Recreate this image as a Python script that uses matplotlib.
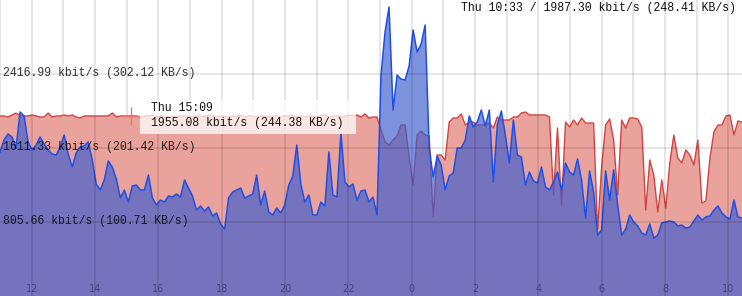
import numpy as np
import matplotlib
matplotlib.use("Agg")
import matplotlib.pyplot as plt
from matplotlib.patches import Rectangle
from matplotlib.transforms import blended_transform_factory, IdentityTransform

# traffic in kbit/s, evenly sampled from Wed ~11:00 to Thu ~10:26
traffic_in = [
    1960, 1960, 1949, 1971, 1992, 1960, 1960, 1960, 1971, 1960,
    1949, 1949, 1992, 1949, 1960, 1960, 1971, 1960, 1971, 1949,
    1938, 1960, 1960, 1960, 1960, 1960, 1960, 1960, 1992, 1949,
    1960, 1960, 1960, 1960, 1960, 1949, 1960, 1960, 1971, 1949,
    1960, 1960, 1949, 1960, 1949, 1960, 1960,
    1960, 1949, 1960, 1960, 1949, 1971, 1960, 1949, 1960, 1960,
    1949, 1960, 1960, 1971, 1949, 1960, 1960, 1949, 1960, 1960,
    1949, 1960, 1960, 1949, 1960, 1960, 1971, 1949, 1960, 1949,
    1960, 1960, 1949, 1960, 1971, 1949, 1960, 1960, 1949, 1960,
    1971, 1960, 1971, 1949, 1981, 1938,
    1949, 1949, 1807, 1677, 1644, 1698, 1742, 1862, 1862, 1513,
    1208, 1753, 1796, 1753, 1742, 860, 1535, 1535, 1481, 1894,
    1938, 1938, 1981, 1862, 1894, 1894, 1862, 1862, 1862, 1883,
    1829, 1949, 1916, 1916, 1916, 1949, 1949,
    1992, 2003, 1971, 1971, 1971, 1971, 1971, 1949, 1100, 1829,
    991, 1894, 1840, 1916, 1862, 1938, 1883, 1883, 1883, 719,
    1404, 1862, 1927,
    1698, 1100, 1916, 1829, 1938, 1938, 1927, 1840, 936, 1481,
    1317, 915, 1263, 958, 1448, 1753, 1502, 1448, 1590, 1535,
    1426, 1698, 1012, 1034, 1502, 1785, 1862, 1862, 1960, 1971,
    1753, 1905, 1894,
]

traffic_out = [
    1568, 1698, 1764, 1731, 1611, 2003, 1960, 1677, 1590, 1644,
    1731, 1655, 1590, 1546, 1535, 1622, 1753, 1546, 1404, 1557,
    1622, 1633, 1677, 1481, 1219, 1154, 1263, 1470, 1404, 1274,
    1067, 1154, 1023, 1198, 1208, 1154, 1154, 1317, 1067, 991,
    1045, 1023, 1089, 1078, 1110, 1078, 1263,
    1176, 1089, 936, 980, 925, 969, 871, 904, 784, 729,
    1067, 1132, 1154, 1176, 1067, 1089, 1110, 1317, 991, 1143,
    915, 882, 958, 904, 991, 1208, 1306, 1644, 1219, 1023,
    1100, 882, 882, 1023, 980, 1568, 1100, 1078, 1775, 1241,
    1187, 1219, 1045, 1143, 1154, 1023,
    1078, 882, 2406, 2874, 3146, 2025, 2406, 2362, 2352, 2504,
    2896, 2656, 2744, 2950, 1622, 1296, 1524, 1426, 1154, 1306,
    1339, 1611, 1611, 1698, 1960, 1840, 1894, 2025, 1851, 2025,
    1241, 1862, 2014, 1753, 1448, 1916, 1535,
    1513, 1208, 1350, 1252, 1230, 1404, 1187, 1154, 1241, 1350,
    1154, 1448, 1350, 1317, 1492, 1263, 849, 1361, 1132, 664,
    719, 1361, 1045,
    1372, 991, 664, 729, 882, 806, 762, 686, 664, 784,
    631, 664, 795, 806, 817, 806, 762, 773, 740, 751,
    817, 882, 827, 860, 871, 936, 980, 904, 860, 838,
    1045, 860, 849,
]

# hours counted from Wed 00:00
t_start = 11.0
t_end = 34.43
y_max = 3222.65

grid_values = [805.66, 1611.33, 2416.99]
grid_labels = [
    "805.66 kbit/s (100.71 KB/s)",
    "1611.33 kbit/s (201.42 KB/s)",
    "2416.99 kbit/s (302.12 KB/s)",
]
tick_hours = [12, 14, 16, 18, 20, 22, 24, 26, 28, 30, 32, 34]
tick_labels = ["12", "14", "16", "18", "20", "22", "0", "2", "4", "6", "8", "10"]

hover_time = 15 + 9 / 60
hover_value = 1955.08
hover_lines = ["Thu 15:09", "1955.08 kbit/s (244.38 KB/s)"]
last_label = "Thu 10:33 / 1987.30 kbit/s (248.41 KB/s)"

mono = "Liberation Mono"

fig = plt.figure(figsize=(7.42, 2.96), dpi=100)
ax = fig.add_axes([0, 0, 1, 1])
ax.set_xlim(t_start, t_end)
ax.set_ylim(0, y_max)
ax.axis("off")

t = np.linspace(t_start, t_end, len(traffic_in))

# faint hourly lines behind the areas
for h in range(11, 35):
    if h % 2:
        ax.axvline(h, color="#e4e4e4", lw=1.3, zorder=0)

ax.fill_between(t, 0, traffic_in, color="#e9a29c", lw=0, zorder=1)
ax.plot(t, traffic_in, color="#d24444", lw=1.0, zorder=2)
ax.fill_between(t, 0, traffic_out, color=(0.243, 0.369, 0.804), alpha=0.68,
                lw=0, zorder=3)
ax.plot(t, traffic_out, color="#1e50e8", lw=1.1, zorder=4)

# stronger grid on top
for h in tick_hours:
    ax.axvline(h, color="black", alpha=0.1, lw=1.4, zorder=5)
for g in grid_values:
    ax.axhline(g, color="black", alpha=0.1, lw=1.4, zorder=5)

ybl = blended_transform_factory(ax.transAxes, ax.transData)
for g, lbl in zip(grid_values, grid_labels):
    ax.annotate(lbl, xy=(0, g), xycoords=ybl, xytext=(3, -2),
                textcoords="offset pixels", va="baseline", ha="left",
                family=mono, fontsize=8.3, color="black", alpha=0.8, zorder=7)

xbl = blended_transform_factory(ax.transData, ax.transAxes)
for h, lbl in zip(tick_hours, tick_labels):
    ax.text(h, 0.022, lbl, transform=xbl, ha="center", va="center",
            fontsize=7, color="#45457c", zorder=7)

# hover crosshair + tooltip
ax.plot(hover_time, hover_value, marker="+", ms=13, mew=1.0,
        color="#f07070", zorder=6)
px, py = ax.transData.transform((hover_time, hover_value))
box = Rectangle((px + 9, py - 18), 216, 34, transform=IdentityTransform(),
                facecolor="white", alpha=0.75, edgecolor="none", zorder=8,
                clip_on=False)
ax.add_patch(box)
ax.annotate(hover_lines[0], xy=(hover_time, hover_value), xytext=(20, 8),
            textcoords="offset pixels", va="center", ha="left",
            family=mono, fontsize=8.3, color="#111111", zorder=9)
ax.annotate(hover_lines[1], xy=(hover_time, hover_value), xytext=(20, -7),
            textcoords="offset pixels", va="center", ha="left",
            family=mono, fontsize=8.3, color="#111111", zorder=9)

ax.text(1 - 6 / 742, 1 - 2 / 296, last_label, transform=ax.transAxes,
        ha="right", va="top", family=mono, fontsize=8.3, color="#111111",
        zorder=9)

fig.savefig("out.png", dpi=100)
